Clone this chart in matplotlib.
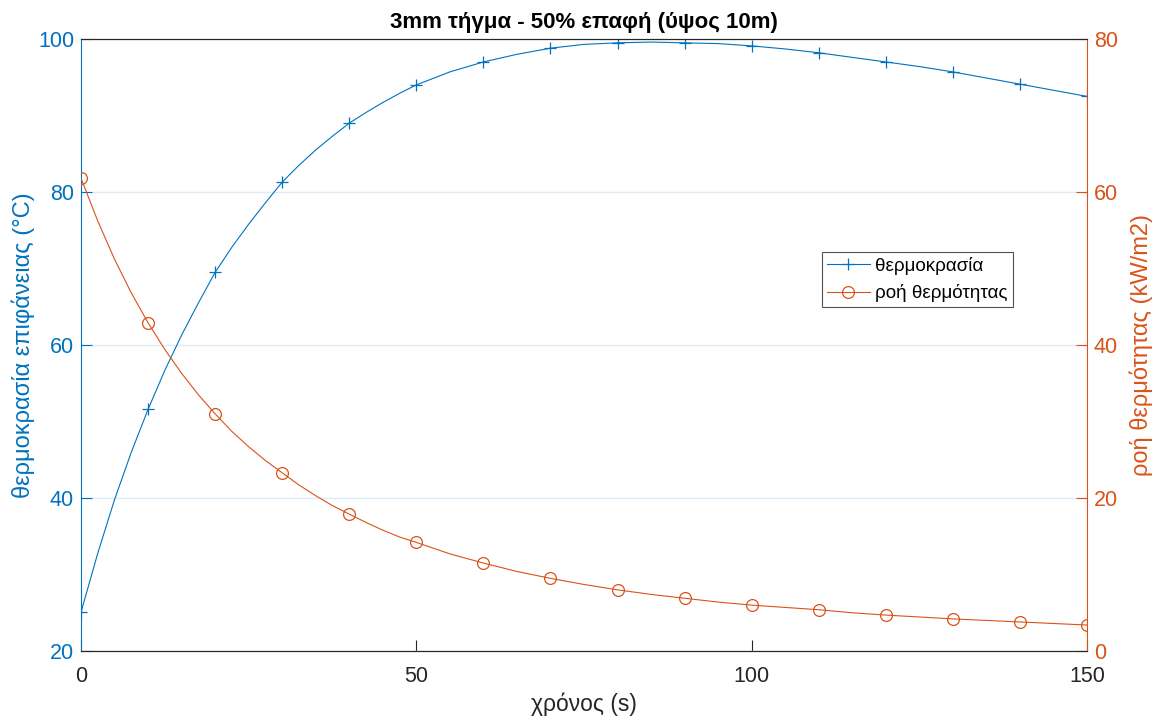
import matplotlib
matplotlib.use("Agg")
import matplotlib.pyplot as plt

plt.rcParams['font.family'] = ['Liberation Sans', 'DejaVu Sans']

# time samples (s): denser where the curves bend fast
time_s = [0, 2.5, 5, 7.5, 10, 12.5, 15, 17.5, 20, 22.5, 25, 27.5, 30,
          32.5, 35, 37.5, 40, 42.5, 45, 47.5, 50, 55, 60, 65, 70, 75,
          80, 85, 90, 95, 100, 105, 110, 115, 120, 125, 130, 135, 140, 145, 150]

# surface temperature (°C)
temperature = [25.1, 32.8, 39.8, 46.0, 51.6, 56.7, 61.3, 65.5, 69.5, 72.8,
               75.8, 78.6, 81.3, 83.5, 85.5, 87.3, 89.0, 90.4, 91.7, 92.9,
               94.0, 95.7, 97.0, 98.0, 98.8, 99.3, 99.5, 99.6, 99.5, 99.4,
               99.1, 98.7, 98.2, 97.6, 97.0, 96.4, 95.7, 94.9, 94.1, 93.3, 92.5]

# heat flux (kW/m2)
heat_flux = [61.8, 56.2, 51.2, 46.8, 42.9, 39.4, 36.3, 33.5, 31.0, 28.7,
             26.7, 24.9, 23.3, 21.7, 20.3, 19.0, 17.9, 16.8, 15.8, 14.9,
             14.2, 12.7, 11.5, 10.4, 9.5, 8.7, 8.0, 7.4, 6.9, 6.4,
             6.0, 5.7, 5.4, 5.0, 4.7, 4.45, 4.2, 4.0, 3.8, 3.6, 3.4]

blue = '#0072BD'
orange = '#D95319'
dark = '#262626'

# markers only on the 10 s samples
marks = [i for i, t in enumerate(time_s) if t % 10 == 0]

fig = plt.figure(figsize=(11.56, 7.17), dpi=100)
ax = fig.add_axes([0.0701, 0.092, 0.8702, 0.8536])
ax2 = ax.twinx()

l1, = ax.plot(time_s, temperature, color=blue, lw=0.8, marker='+', ms=8,
              mew=0.9, markevery=marks, label='θερμοκρασία')
l2, = ax2.plot(time_s, heat_flux, color=orange, lw=0.8, marker='o', ms=8.5,
               mfc='none', mew=0.9, markevery=marks, label='ροή θερμότητας')

ax.set_xlim(0, 150)
ax.set_ylim(20, 100)
ax2.set_ylim(0, 80)
ax.set_xticks([0, 50, 100, 150])
ax.set_yticks([20, 40, 60, 80, 100])
ax2.set_yticks([0, 20, 40, 60, 80])

ax.yaxis.grid(True, color='#DCEBF6', lw=1)
ax.set_axisbelow(True)

ax.spines['left'].set_color(blue)
ax.spines['right'].set_visible(False)
ax.spines['top'].set_color(dark)
ax.spines['bottom'].set_color(dark)
ax2.spines['right'].set_color(orange)
ax2.spines['left'].set_visible(False)
ax2.spines['top'].set_color(dark)
ax2.spines['bottom'].set_color(dark)

ax.tick_params(axis='x', direction='in', length=8, colors=dark, labelsize=15.5, pad=11)
ax.tick_params(axis='y', direction='in', length=8, colors=blue, labelsize=15.5, pad=5)
ax2.tick_params(axis='y', direction='in', length=8, colors=orange, labelsize=15.5, pad=5)

ax.set_xlabel('χρόνος (s)', fontsize=16.5, color=dark, labelpad=4)
ax.set_ylabel('θερμοκρασία επιφάνειας (°C)', fontsize=17, color=blue, labelpad=2)
ax2.set_ylabel('ροή θερμότητας (kW/m2)', fontsize=17, color=orange, labelpad=8)
ax.set_title('3mm τήγμα - 50% επαφή (ύψος 10m)', fontsize=16, fontweight='bold',
             pad=8)

leg = ax2.legend(handles=[l1, l2], loc='upper left',
                 bbox_to_anchor=(822 / 1156, 1 - 252 / 717),
                 bbox_transform=fig.transFigure, fontsize=13.5, frameon=True,
                 fancybox=False, edgecolor=dark, handlelength=2.3,
                 borderpad=0.25, labelspacing=0.5, borderaxespad=0,
                 handletextpad=0.3)
leg.get_frame().set_linewidth(0.8)

fig.savefig('out.png', dpi=100)
